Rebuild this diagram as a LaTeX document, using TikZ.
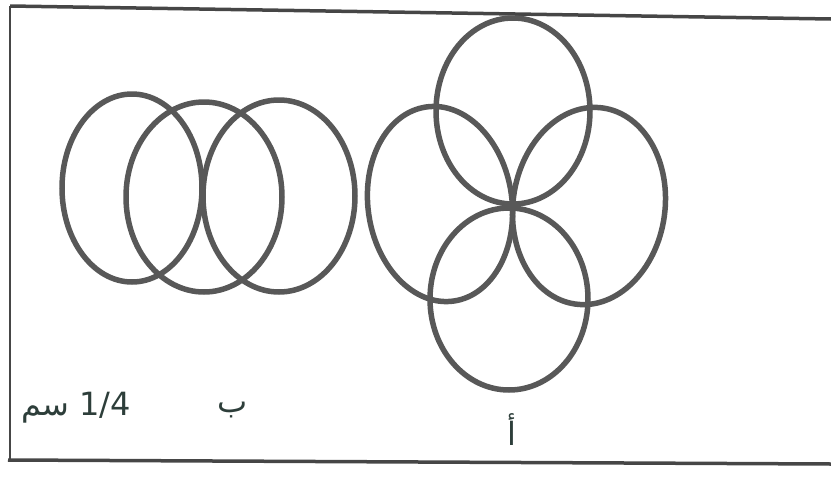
\documentclass[tikz,border=0pt]{standalone}
\usepackage{fontspec}
\newfontfamily\arabicfont[Script=Arabic]{DejaVu Sans}
\TeXXeTstate=1
\definecolor{ink}{RGB}{88,88,88}
\definecolor{rule}{RGB}{70,70,70}
\definecolor{pen}{RGB}{45,62,58}

\begin{document}
\begin{tikzpicture}[x=1pt,y=-1pt,
			ring/.style={draw=ink,line width=5.5pt},
			frame/.style={draw=rule,line width=3.5pt},
			tag/.style={text=pen,font=\fontsize{32}{36}\selectfont\arabicfont,inner sep=0pt}]
			\useasboundingbox (0,0) rectangle (831,496);
			% frame
			\coordinate (tl) at (10,6);
			\coordinate (tr) at (831,19);
			\coordinate (bl) at (8,460);
			\coordinate (br) at (831,464);
			\draw[frame] (tl) -- (tr);
			\draw[frame] (bl) -- (br);
			\draw[frame,line width=2.5pt] (tl) -- (10,460);
			% figure b: three rings in a row
			\draw[ring] (132,188) ellipse [x radius=70pt, y radius=94pt];
			\draw[ring] (204,197) ellipse [x radius=78pt, y radius=95pt];
			\draw[ring] (279,196) ellipse [x radius=76pt, y radius=96pt];
			% figure a: four rings round a centre
			\draw[ring] (513,111) ellipse [x radius=77pt, y radius=93pt];
			\draw[ring,rotate around={8:(440,204)}] (440,204) ellipse [x radius=72pt, y radius=98pt];
			\draw[ring,rotate around={-8:(589,206)}] (589,206) ellipse [x radius=76pt, y radius=99pt];
			\draw[ring] (509,299) ellipse [x radius=79pt, y radius=91pt];
			% labels
			\node[tag] (labb) at (233,410) {\beginR ب\endR};
			\node[tag] (laba) at (512,430) {\beginR أ\endR};
			\node[tag] (scale) at (76,408) {\beginR\beginL 1/4\endL{} سم\endR};
		\end{tikzpicture}
\end{document}
